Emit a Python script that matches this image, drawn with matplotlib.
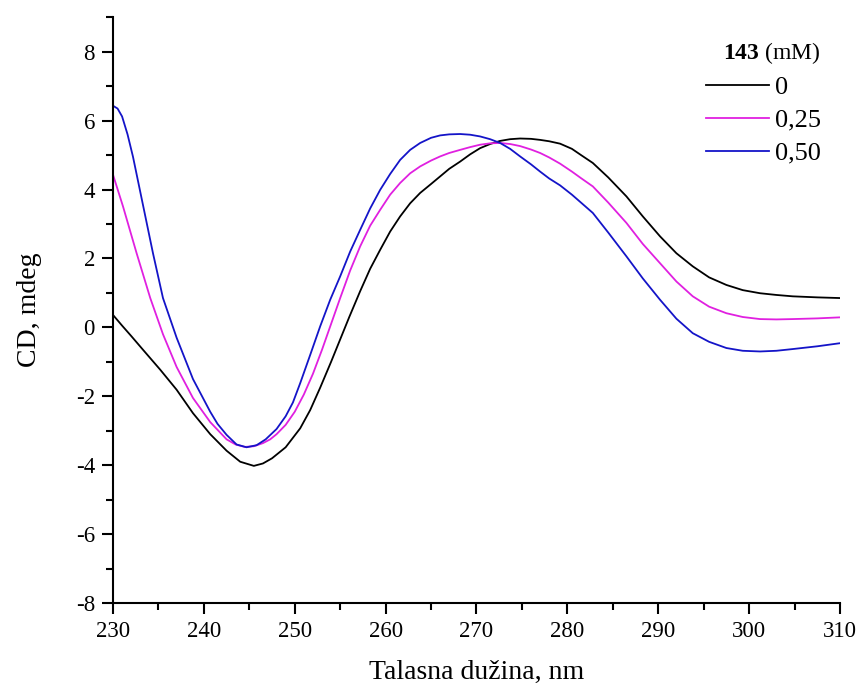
import numpy as np
import matplotlib
matplotlib.use("Agg")
import matplotlib.pyplot as plt
from matplotlib.ticker import MultipleLocator

plt.rcParams["font.family"] = ["Liberation Serif", "DejaVu Serif"]
plt.rcParams["mathtext.fontset"] = "custom"
plt.rcParams["mathtext.rm"] = "Liberation Serif"
plt.rcParams["mathtext.bf"] = "Liberation Serif:bold"
plt.rcParams["axes.unicode_minus"] = False

# ----------------------------
# Data (wavelength nm, CD mdeg)
# ----------------------------
wl_0 = [230, 231, 232, 233.3, 235.2, 237, 238.8, 240.7, 242.5, 244, 245.5, 246.5,
        247.5, 249, 250.6, 251.7, 252.8, 254, 255, 256, 257.2, 258.3, 259.4, 260.5,
        261.6, 262.7, 263.8, 265, 266, 267, 268.2, 269.3, 270.4, 271.5, 272.6,
        273.7, 274.8, 276, 277, 278, 279.2, 280.5, 281.5, 282.8, 284.5, 286.5,
        288.3, 290.2, 292, 293.8, 295.6, 297.5, 299.3, 301.2, 303, 304.8, 307.5, 310]
cd_0 = [0.36, 0.05, -0.25, -0.65, -1.23, -1.81, -2.49, -3.10, -3.58, -3.90, -4.02, -3.95,
        -3.80, -3.48, -2.93, -2.40, -1.75, -1.00, -0.35, 0.30, 1.05, 1.70, 2.25, 2.78,
        3.22, 3.60, 3.90, 4.16, 4.38, 4.60, 4.81, 5.02, 5.20, 5.32, 5.41,
        5.46, 5.48, 5.47, 5.44, 5.40, 5.33, 5.18, 5.00, 4.77, 4.35, 3.80,
        3.22, 2.64, 2.15, 1.77, 1.45, 1.23, 1.08, 0.99, 0.94, 0.90, 0.87, 0.85]

wl_025 = [230, 231.1, 232.6, 234.1, 235.5, 237, 238.8, 240.7, 242.5, 243.5, 244.5,
          245.5, 246.5, 247.3, 248, 249, 250, 251, 252, 253, 254, 255, 256.1, 257.2,
          258.3, 259.4, 260.5, 261.6, 262.7, 263.8, 265, 266, 267, 268.2, 269.3, 270.4,
          271.5, 272.6, 273.7, 274.8, 276, 277, 278, 279.2, 280.5, 281.5, 282.8,
          284.5, 286.5, 288.3, 290.2, 292, 293.8, 295.6, 297.5, 299.3, 301.2, 303,
          304.8, 307.5, 310]
cd_025 = [4.43, 3.51, 2.15, 0.85, -0.20, -1.15, -2.05, -2.75, -3.25, -3.40, -3.47,
          -3.45, -3.36, -3.25, -3.10, -2.83, -2.45, -1.95, -1.35, -0.65, 0.10, 0.85,
          1.65, 2.35, 2.95, 3.41, 3.85, 4.19, 4.47, 4.67, 4.84, 4.96, 5.06, 5.15,
          5.23, 5.30, 5.34, 5.35, 5.32, 5.26, 5.16, 5.06, 4.93, 4.75, 4.52, 4.33,
          4.09, 3.62, 3.03, 2.42, 1.86, 1.33, 0.90, 0.60, 0.41, 0.30, 0.24, 0.23,
          0.24, 0.26, 0.29]

wl_050 = [230, 230.5, 231, 231.6, 232.2, 233.3, 234.4, 235.5, 237, 238.8, 240.7,
          241.5, 242.5, 243.6, 244.7, 245.8, 246.8, 248, 249, 249.8, 250.6, 251.7,
          252.8, 253.9, 255, 256.1, 257.2, 258.3, 259.4, 260.5, 261.6, 262.7, 263.8,
          265, 266, 267, 268.2, 269.3, 270.4, 271.5, 272.6, 273.7, 274.8, 276, 277,
          278, 279.2, 280.5, 281.5, 282.8, 284.5, 286.5, 288.3, 290.2, 292, 293.8,
          295.6, 297.5, 299.3, 301.2, 303, 304.8, 307.5, 310]
cd_050 = [6.43, 6.35, 6.12, 5.60, 4.95, 3.55, 2.15, 0.85, -0.30, -1.50, -2.45,
          -2.80, -3.12, -3.40, -3.48, -3.42, -3.25, -2.95, -2.58, -2.18, -1.62, -0.80,
          0.03, 0.80, 1.48, 2.20, 2.83, 3.45, 3.99, 4.45, 4.86, 5.15, 5.35,
          5.50, 5.57, 5.60, 5.61, 5.59, 5.54, 5.46, 5.35, 5.18, 4.96, 4.73, 4.52,
          4.32, 4.12, 3.85, 3.62, 3.32, 2.75, 2.06, 1.42, 0.80, 0.25, -0.17,
          -0.42, -0.60, -0.68, -0.70, -0.68, -0.63, -0.55, -0.46]

labels = ["0", "0,25", "0,50"]
colors = ["black", "#e020e0", "#1414c8"]

# ----------------------------
# Plot
# ----------------------------
fig = plt.figure(figsize=(8.58, 6.88), dpi=100)
ax = fig.add_axes([0.1317, 0.1235, 0.979 - 0.1317, 0.975 - 0.1235])

series = [(wl_0, cd_0), (wl_025, cd_025), (wl_050, cd_050)]
for (x, y), lab, c in zip(series, labels, colors):
    ax.plot(x, y, color=c, linewidth=1.3, label=lab)

ax.set_xlim(230, 310)
ax.set_ylim(-8, 9)
ax.xaxis.set_major_locator(MultipleLocator(10))
ax.xaxis.set_minor_locator(MultipleLocator(5))
ax.yaxis.set_major_locator(MultipleLocator(2))
ax.yaxis.set_minor_locator(MultipleLocator(1))

for side in ["top", "right"]:
    ax.spines[side].set_visible(False)
for side in ["left", "bottom"]:
    ax.spines[side].set_linewidth(1.5)

ax.tick_params(which="major", direction="out", length=8, width=1.5, labelsize=16.5, pad=5)
ax.tick_params(which="minor", direction="out", length=5, width=1.5)

ax.set_xlabel("Talasna dužina, nm", fontsize=20, labelpad=13)
ax.set_ylabel("CD, mdeg", fontsize=20, labelpad=24)

leg = ax.legend(title=r"$\mathbf{143}$ (mM)", loc="upper right",
                bbox_to_anchor=(0.995, 0.988), frameon=False, fontsize=19,
                title_fontsize=17, handlelength=2.4, handletextpad=0.2,
                labelspacing=0.36, borderaxespad=0.2)
leg._legend_box.align = "right"

fig.savefig("out.png", dpi=100)
